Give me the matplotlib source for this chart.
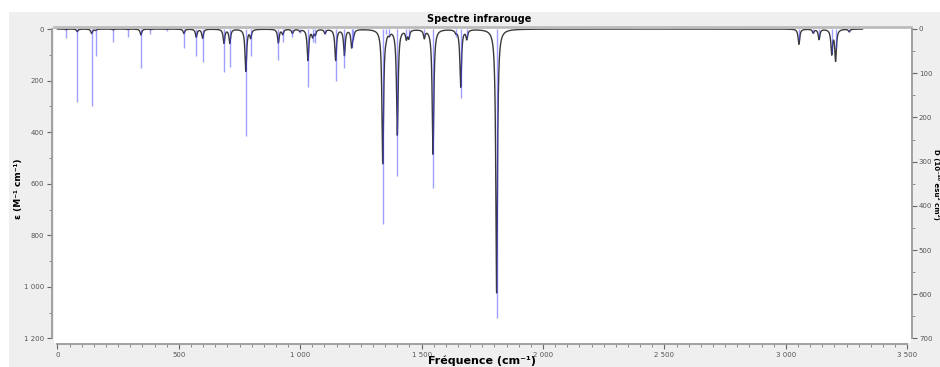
import numpy as np
import matplotlib
matplotlib.use('Agg')
import matplotlib.pyplot as plt
from matplotlib.ticker import MultipleLocator, FuncFormatter
from matplotlib.patches import Rectangle

# vibrational modes
freq = [35, 82, 141, 157, 230, 290, 344, 383, 450, 521, 572, 598, 686, 710,
        776, 796, 910, 928, 968, 999, 1032, 1051, 1062, 1102, 1146, 1182,
        1212, 1219, 1340, 1353, 1367, 1400, 1437, 1447, 1511, 1547, 1641,
        1661, 1686, 1809, 3054, 3113, 3137, 3189, 3205, 3261]
# stick heights (right axis, D)
dip = [20, 166, 174, 60, 29, 19, 89, 12, 5, 44, 60, 74, 97, 87,
       242, 61, 70, 29, 17, 9, 132, 29, 32, 11, 117, 89,
       40, 25, 442, 11, 16, 333, 18, 20, 14, 360, 18,
       156, 17, 653, 25, 10, 18, 55, 43, 7]
# peak heights of the broadened curve (left axis, epsilon)
eps = [2, 10, 17, 5, 3, 2, 23, 2, 1, 17, 31, 35, 54, 54,
       163, 31, 53, 19, 16, 8, 120, 27, 20, 16, 120, 100,
       66, 20, 519, 10, 12, 408, 33, 31, 31, 484, 10,
       223, 35, 1023, 59, 15, 40, 94, 120, 10]
hwhm = 4.0

W, H = 940, 367
def fx(px): return px / W
def fy(py): return 1 - py / H

fig = plt.figure(figsize=(9.4, 3.67), dpi=100, facecolor='#efefef')
fig.patches.append(Rectangle((0, fy(12)), 1, 12 / H, transform=fig.transFigure,
                             facecolor='white', edgecolor='none'))
fig.patches.append(Rectangle((0, 0), fx(9), 1, transform=fig.transFigure,
                             facecolor='white', edgecolor='none'))

ax = fig.add_axes([fx(54), fy(343), fx(911) - fx(54), fy(27) - fy(343)])
ax.set_facecolor('white')

x = np.arange(0, 3316, 0.5)
curve = np.zeros_like(x)
for f, e in zip(freq, eps):
    curve += e / (1 + ((x - f) / hwhm) ** 2)
ax.plot(x, curve, color='#3a3a3a', lw=1.0)

ax.set_xlim(-14.0, 3515.6)
ax.set_ylim(1217.5, -7.8)

ax2 = ax.twinx()
ax2.vlines(freq, 0, dip, color='#4040ff', alpha=0.5, lw=1)
ax2.set_ylim(710.2, -4.5)

thous = FuncFormatter(lambda v, p: f"{int(round(v)):,}".replace(",", " "))
spine_c = '#9a9a9a'
for a in (ax, ax2):
    for s in a.spines.values():
        s.set_visible(False)

ax.spines['top'].set_visible(True)
ax.spines['top'].set_color('#bcbcbc')
ax.spines['top'].set_linewidth(2)
ax.spines['left'].set_visible(True)
ax.spines['left'].set_bounds(0, 1200)
ax.spines['left'].set_position(('outward', 1.5))
ax.spines['bottom'].set_visible(True)
ax.spines['bottom'].set_bounds(0, 3500)
ax.spines['bottom'].set_position(('outward', 1))
ax2.spines['right'].set_visible(True)
ax2.spines['right'].set_bounds(0, 700)
ax2.spines['right'].set_position(('outward', 1))
for s in (ax.spines['left'], ax.spines['bottom'], ax2.spines['right']):
    s.set_color(spine_c)
    s.set_linewidth(1.3)

ax.xaxis.set_major_locator(MultipleLocator(500))
ax.xaxis.set_minor_locator(MultipleLocator(50))
ax.yaxis.set_major_locator(MultipleLocator(200))
ax.yaxis.set_minor_locator(MultipleLocator(100))
ax2.yaxis.set_major_locator(MultipleLocator(100))
ax2.yaxis.set_minor_locator(MultipleLocator(50))
ax.xaxis.set_major_formatter(thous)
ax.yaxis.set_major_formatter(thous)
ax2.yaxis.set_major_formatter(thous)

for a in (ax, ax2):
    a.tick_params(which='major', length=3.5, width=0.8, color='#666666',
                  labelsize=5, labelcolor='#555555', pad=2)
    a.tick_params(which='minor', length=2, width=0.6, color='#777777')
ax.tick_params(axis='x', top=False)
ax.tick_params(axis='y', right=False)
ax2.tick_params(axis='y', left=False, pad=1.2)

fig.text(fx(479), fy(19), 'Spectre infrarouge', ha='center', va='center',
         fontsize=7, fontweight='bold')
fig.text(fx(482), fy(361), 'Fréquence (cm⁻¹)', ha='center', va='center',
         fontsize=8, fontweight='bold')
fig.text(fx(18), fy(189), 'ε (M⁻¹ cm⁻¹)', ha='center', va='center',
         rotation=90, fontsize=6.5, fontweight='bold')
fig.text(fx(936.3), fy(184), 'D (10⁻⁴⁰ esu² cm²)', ha='center', va='center',
         rotation=270, fontsize=5, fontweight='bold')

fig.savefig('out.png', dpi=100, facecolor=fig.get_facecolor())
